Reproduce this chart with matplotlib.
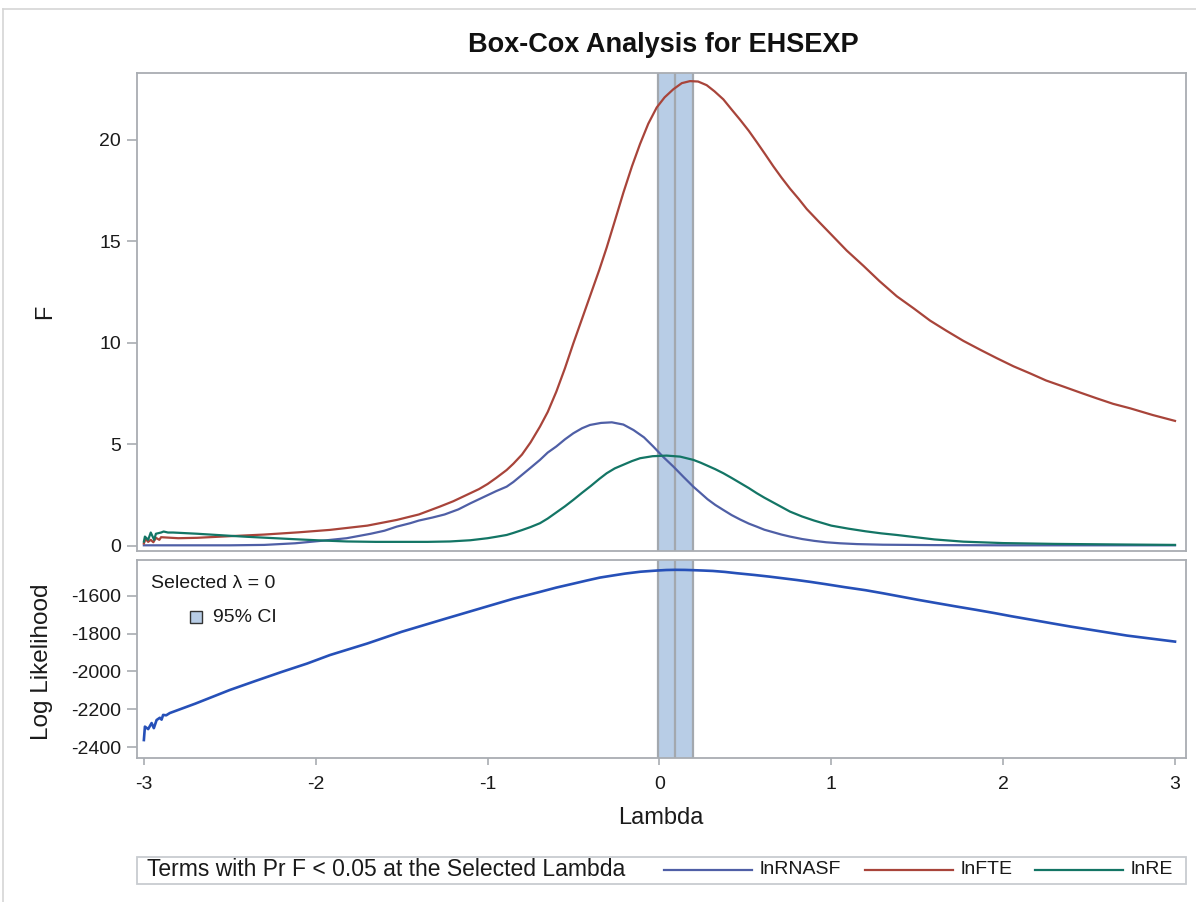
import matplotlib
matplotlib.use("Agg")
import matplotlib.pyplot as plt
from matplotlib.lines import Line2D
from matplotlib.patches import Rectangle

plt.rcParams['font.family'] = ['Liberation Sans', 'DejaVu Sans']
plt.rcParams['axes.unicode_minus'] = False

# ---------------- data ----------------
lam_fte = [-3.0, -2.99, -2.975, -2.96, -2.945, -2.93, -2.91, -2.9, -2.8, -2.69, -2.5, -2.3, -2.1,
           -1.917, -1.7, -1.529, -1.4, -1.277, -1.2, -1.1, -1.05, -1.0, -0.95, -0.889, -0.85,
           -0.8, -0.75, -0.695, -0.65, -0.6, -0.55, -0.501, -0.45, -0.4, -0.35, -0.307, -0.26,
           -0.21, -0.16, -0.113, -0.065, -0.016, 0.03, 0.081, 0.13, 0.178, 0.225, 0.275, 0.32,
           0.372, 0.42, 0.469, 0.52, 0.566, 0.615, 0.663, 0.71, 0.76, 0.81, 0.857, 0.93, 0.993,
           1.09, 1.187, 1.28, 1.381, 1.48, 1.575, 1.67, 1.769, 1.87, 1.963, 2.06, 2.157, 2.25,
           2.351, 2.45, 2.545, 2.64, 2.739, 2.87, 3.0]
f_fte = [0.12, 0.35, 0.2, 0.3, 0.18, 0.4, 0.3, 0.43, 0.38, 0.4, 0.48, 0.56, 0.67,
         0.79, 1.0, 1.28, 1.55, 1.94, 2.2, 2.6, 2.8, 3.05, 3.35, 3.74, 4.05,
         4.5, 5.1, 5.88, 6.6, 7.6, 8.75, 9.98, 11.2, 12.4, 13.6, 14.7, 16.0,
         17.4, 18.7, 19.8, 20.8, 21.6, 22.1, 22.5, 22.8, 22.9, 22.88, 22.7, 22.4,
         22.0, 21.5, 21.0, 20.45, 19.9, 19.3, 18.7, 18.15, 17.6, 17.1, 16.6, 15.95, 15.4,
         14.55, 13.8, 13.05, 12.3, 11.7, 11.1, 10.6, 10.1, 9.65, 9.25, 8.85, 8.5, 8.15,
         7.85, 7.55, 7.27, 7.0, 6.78, 6.45, 6.16]

lam_rnasf = [-3.0, -2.5, -2.3, -2.12, -1.97, -1.82, -1.68, -1.6, -1.529, -1.45, -1.4, -1.32,
             -1.25, -1.17, -1.1, -1.0, -0.95, -0.889, -0.85, -0.8, -0.75, -0.695, -0.65, -0.6,
             -0.55, -0.501, -0.45, -0.404, -0.34, -0.277, -0.21, -0.151, -0.09, -0.035, 0.02,
             0.081, 0.14, 0.197, 0.24, 0.28, 0.325, 0.372, 0.42, 0.47, 0.52, 0.566, 0.61, 0.66,
             0.71, 0.76, 0.83, 0.9, 0.97, 1.051, 1.15, 1.3, 1.6, 2.0, 3.0]
f_rnasf = [0.03, 0.03, 0.05, 0.13, 0.25, 0.38, 0.6, 0.75, 0.95, 1.12, 1.25, 1.4,
           1.55, 1.8, 2.1, 2.5, 2.7, 2.92, 3.15, 3.5, 3.85, 4.24, 4.6, 4.9,
           5.25, 5.55, 5.8, 5.96, 6.06, 6.09, 5.98, 5.71, 5.35, 4.89, 4.4,
           3.91, 3.4, 2.92, 2.6, 2.3, 2.02, 1.77, 1.52, 1.3, 1.1, 0.95, 0.8, 0.68,
           0.56, 0.46, 0.34, 0.25, 0.18, 0.13, 0.09, 0.06, 0.04, 0.03, 0.03]

lam_re = [-3.0, -2.994, -2.975, -2.96, -2.94, -2.93, -2.9, -2.885, -2.86, -2.83, -2.69, -2.5,
          -2.4, -2.26, -2.12, -1.97, -1.82, -1.65, -1.5, -1.35, -1.219, -1.1, -1.0, -0.95,
          -0.889, -0.85, -0.8, -0.75, -0.695, -0.65, -0.6, -0.55, -0.501, -0.45, -0.4, -0.35,
          -0.307, -0.26, -0.21, -0.16, -0.113, -0.04, 0.042, 0.12, 0.197, 0.24, 0.28, 0.325,
          0.372, 0.42, 0.47, 0.52, 0.566, 0.61, 0.66, 0.71, 0.76, 0.83, 0.9, 1.0, 1.1, 1.2,
          1.29, 1.381, 1.5, 1.6, 1.769, 2.0, 2.3, 2.7, 3.0]
f_re = [0.21, 0.46, 0.3, 0.66, 0.3, 0.6, 0.66, 0.71, 0.66, 0.66, 0.6, 0.5,
        0.45, 0.39, 0.33, 0.27, 0.22, 0.2, 0.2, 0.2, 0.22, 0.28, 0.38, 0.45,
        0.54, 0.64, 0.78, 0.93, 1.12, 1.35, 1.65, 1.95, 2.27, 2.62, 2.95, 3.3,
        3.58, 3.82, 4.0, 4.18, 4.32, 4.42, 4.45, 4.4, 4.24, 4.1, 3.95, 3.78,
        3.58, 3.35, 3.1, 2.85, 2.6, 2.38, 2.15, 1.92, 1.69, 1.45, 1.25, 1.0, 0.85, 0.72,
        0.62, 0.54, 0.42, 0.32, 0.21, 0.14, 0.1, 0.07, 0.05]

lam_ll = [-3.0, -2.994, -2.975, -2.955, -2.942, -2.926, -2.907, -2.897, -2.888, -2.87, -2.849,
          -2.7, -2.5, -2.35, -2.2, -2.05, -1.917, -1.7, -1.5, -1.25, -1.0, -0.85, -0.7, -0.6,
          -0.5, -0.42, -0.346, -0.27, -0.2, -0.11, -0.018, 0.04, 0.092, 0.15, 0.2, 0.26, 0.311,
          0.38, 0.45, 0.55, 0.64, 0.72, 0.8, 0.88, 0.968, 1.08, 1.2, 1.3, 1.406, 1.5, 1.6,
          1.72, 1.844, 1.95, 2.05, 2.17, 2.282, 2.39, 2.5, 2.61, 2.72, 2.86, 3.0]
loglik = [-2363, -2292, -2305, -2273, -2300, -2257, -2245, -2255, -2230, -2232, -2220,
          -2170, -2098, -2050, -2003, -1958, -1913, -1852, -1790, -1722, -1655, -1615, -1580, -1556,
          -1535, -1518, -1503, -1492, -1482, -1472, -1466, -1463, -1462, -1462.5, -1464, -1466, -1468,
          -1473, -1480, -1489, -1498, -1507, -1516, -1526, -1538, -1554, -1570, -1586, -1604, -1620, -1636,
          -1655, -1674, -1691, -1708, -1727, -1745, -1762, -1778, -1794, -1810, -1826, -1842]

ci_lower, lambda_best, ci_upper = -0.01, 0.09, 0.195
selected_lambda = 0
series_names = ['lnRNASF', 'lnFTE', 'lnRE']
x_ticks = [-3, -2, -1, 0, 1, 2, 3]
f_ticks = [0, 5, 10, 15, 20]
ll_ticks = [-2400, -2200, -2000, -1800, -1600]

# ---------------- styling ----------------
c_rnasf = '#4F5FA6'
c_fte = '#A8443A'
c_re = '#137565'
c_ll = '#2650B8'
band_fill = '#B8CDE6'
band_edge = '#A3A8AE'
frame = '#A9ADB2'
txt = '#1A1A1A'
TICK_FS = 14
LABEL_FS = 17

W, H = 1196, 902
fig = plt.figure(figsize=(W / 100, H / 100), dpi=100)

def fx(px):
    return px / W

def fy(py):
    return 1 - py / H

ax1 = fig.add_axes([fx(137), fy(551), fx(1186) - fx(137), fy(73) - fy(551)])
ax2 = fig.add_axes([fx(137), fy(758), fx(1186) - fx(137), fy(560) - fy(758)], sharex=ax1)

for ax in (ax1, ax2):
    ax.axvspan(ci_lower, ci_upper, facecolor=band_fill, edgecolor='none', zorder=1)
    for v in (ci_lower, lambda_best, ci_upper):
        ax.axvline(v, color=band_edge, lw=1.6, zorder=2)
    for s in ax.spines.values():
        s.set_color(frame)
        s.set_linewidth(1.3)
    ax.tick_params(axis='y', colors=frame, labelcolor=txt, labelsize=TICK_FS,
                   length=7.5, width=1.2, pad=4)
    ax.tick_params(axis='x', colors=frame, labelcolor=txt, labelsize=TICK_FS,
                   length=5, width=1.2, pad=8)

ax1.plot(lam_rnasf, f_rnasf, color=c_rnasf, lw=1.6, zorder=3)
ax1.plot(lam_fte, f_fte, color=c_fte, lw=1.6, zorder=3)
ax1.plot(lam_re, f_re, color=c_re, lw=1.6, zorder=3)
ax1.set_xlim(-3.04, 3.064)
ax1.set_ylim(-0.25, 23.3)
ax1.set_yticks(f_ticks)
ax1.tick_params(axis='x', bottom=False, labelbottom=False)

ax2.plot(lam_ll, loglik, color=c_ll, lw=1.9, zorder=3)
ax2.set_ylim(-2458, -1410)
ax2.set_yticks(ll_ticks)
ax2.set_xticks(x_ticks)
ax2.set_xticklabels([str(t) for t in x_ticks])

# axis labels
fig.text(fx(45), fy(312), 'F', fontsize=LABEL_FS, color=txt, rotation=90, ha='center', va='center')
fig.text(fx(42), fy(662), 'Log Likelihood', fontsize=17.5, color=txt, rotation=90,
         ha='center', va='center')
fig.text(fx(661), fy(818), 'Lambda', fontsize=LABEL_FS, color=txt, ha='center', va='center')

# inset legend in lower panel
fig.text(fx(151), fy(583), 'Selected \u03bb = %d' % selected_lambda, fontsize=14, color=txt,
         va='center', ha='left')
fig.patches.append(Rectangle((fx(190), fy(623)), fx(202) - fx(190), fy(611) - fy(623),
                             transform=fig.transFigure, facecolor=band_fill,
                             edgecolor='#333333', lw=1.0))
fig.text(fx(213), fy(617), '95% CI', fontsize=14, color=txt, va='center', ha='left')

# title
fig.text(fx(663), fy(45), 'Box-Cox Analysis for EHSEXP', fontsize=19.5, fontweight='bold',
         color='#111111', ha='center', va='center')

# bottom legend box
fig.patches.append(Rectangle((fx(137), fy(884)), fx(1186) - fx(137), fy(857) - fy(884),
                             transform=fig.transFigure, facecolor='white',
                             edgecolor='#C8CCD0', lw=1.3))
fig.text(fx(147), fy(870), 'Terms with Pr F < 0.05 at the Selected Lambda', fontsize=16.5,
         color=txt, va='center', ha='left')
leg_items = [(664, 752, 760, c_rnasf), (865, 953, 961, c_fte), (1035, 1123, 1131, c_re)]
for (x0, x1, xt, col), name in zip(leg_items, series_names):
    fig.add_artist(Line2D([fx(x0), fx(x1)], [fy(870), fy(870)], transform=fig.transFigure,
                          color=col, lw=1.6))
    fig.text(fx(xt), fy(870), name, fontsize=14, color=txt, va='center', ha='left')

# outer border
fig.add_artist(Line2D([fx(3), fx(3)], [0, fy(9)], transform=fig.transFigure, color='#D5D5D5', lw=1.2))
fig.add_artist(Line2D([fx(3), 1], [fy(9), fy(9)], transform=fig.transFigure, color='#D5D5D5', lw=1.2))

fig.savefig('out.png', dpi=100, facecolor='white')
